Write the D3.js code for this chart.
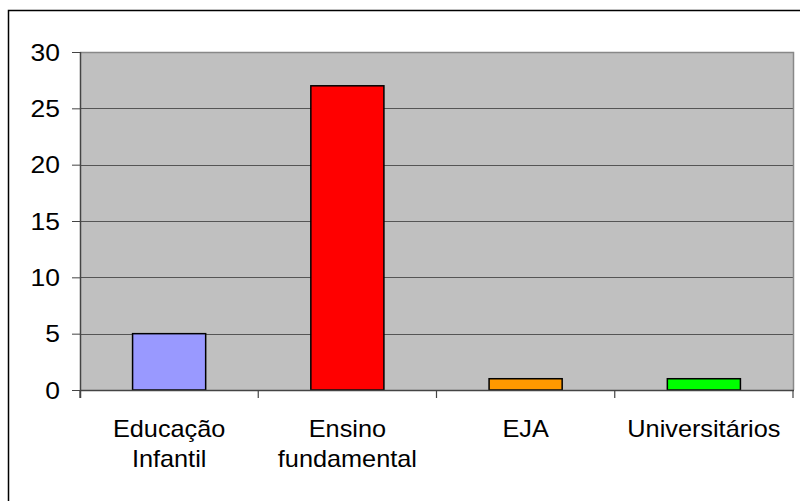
<!DOCTYPE html>
<html>
<head>
<meta charset="utf-8">
<script src="https://cdn.jsdelivr.net/npm/d3@7/dist/d3.min.js"></script>
<style>
  html, body { margin: 0; padding: 0; background: #fff; }
  svg { display: block; }
  text { font-family: "Liberation Sans", Arial, sans-serif; fill: #000; }
</style>
</head>
<body>
<svg id="chart" width="800" height="501"></svg>
<script>
// Data
const categories = [["Educação", "Infantil"], ["Ensino", "fundamental"], ["EJA"], ["Universitários"]];
const values = [5, 27, 1, 1];
const barColors = ["#9999ff", "#ff0000", "#ff9900", "#00ff00"];
const yTicks = [0, 5, 10, 15, 20, 25, 30];

const svg = d3.select("#chart");
const plot = { left: 80, right: 793, top: 52, bottom: 390 };

// Outer frame of the chart area
svg.append("rect")
  .attr("x", 8.5).attr("y", 10.5)
  .attr("width", 800).attr("height", 500)
  .attr("fill", "none").attr("stroke", "#000").attr("stroke-width", 1.5);

const x = d3.scaleBand()
  .domain(d3.range(categories.length))
  .range([plot.left, plot.right])
  .paddingInner(0.59).paddingOuter(0.295);

const y = d3.scaleLinear().domain([0, 30]).range([plot.bottom, plot.top]);

// Plot background
svg.append("rect")
  .attr("x", plot.left).attr("y", plot.top)
  .attr("width", plot.right - plot.left).attr("height", plot.bottom - plot.top)
  .attr("fill", "#c0c0c0");

// Gridlines
svg.append("g").selectAll("line")
  .data(yTicks.filter(t => t > 0 && t < 30))
  .join("line")
  .attr("x1", plot.left).attr("x2", plot.right)
  .attr("y1", d => Math.round(y(d)) + 0.5).attr("y2", d => Math.round(y(d)) + 0.5)
  .attr("stroke", "#555").attr("stroke-width", 1);

// Plot border (top and right)
svg.append("path")
  .attr("d", `M${plot.left},${plot.top + 0.5}H${plot.right + 0.5}V${plot.bottom}`)
  .attr("fill", "none").attr("stroke", "#888").attr("stroke-width", 1.5);

// Bars
svg.append("g").selectAll("rect")
  .data(values)
  .join("rect")
  .attr("x", (d, i) => x(i))
  .attr("y", d => y(d))
  .attr("width", x.bandwidth())
  .attr("height", d => y(0) - y(d))
  .attr("fill", (d, i) => barColors[i])
  .attr("stroke", "#000").attr("stroke-width", 1.5);

// Y axis
const yAxis = d3.axisLeft(y).tickValues(yTicks).tickSize(8).tickPadding(12).tickSizeOuter(0);
const gy = svg.append("g").attr("transform", `translate(${plot.left},0)`).call(yAxis);
gy.select(".domain").attr("stroke", "#444").attr("stroke-width", 1.5)
  .attr("d", `M0.5,${plot.top}V${plot.bottom + 8}`);
gy.selectAll(".tick line").attr("stroke", "#444");
gy.selectAll(".tick text")
  .attr("font-size", 23)
  .attr("fill", "#000")
  .attr("dy", "0.36em")
  .attr("transform", "scale(1.15,1)")
  .attr("x", -20 / 1.15);

// X axis line and category separators
const band = (plot.right - plot.left) / categories.length;
svg.append("line")
  .attr("x1", plot.left).attr("x2", plot.right + 1)
  .attr("y1", plot.bottom + 0.5).attr("y2", plot.bottom + 0.5)
  .attr("stroke", "#444").attr("stroke-width", 1.5);
svg.append("g").selectAll("line")
  .data(d3.range(categories.length + 1))
  .join("line")
  .attr("x1", i => plot.left + i * band).attr("x2", i => plot.left + i * band)
  .attr("y1", plot.bottom).attr("y2", plot.bottom + 8)
  .attr("stroke", "#444").attr("stroke-width", 1.2);

// Category labels
const labels = svg.append("g").selectAll("text")
  .data(categories)
  .join("text")
  .attr("text-anchor", "middle")
  .attr("font-size", 23)
  .attr("transform", (d, i) => `translate(${x(i) + x.bandwidth() / 2},437) scale(1.1,1)`);
labels.selectAll("tspan")
  .data(d => d)
  .join("tspan")
  .attr("x", 0)
  .attr("y", (d, j) => j * 30)
  .text(d => d);
</script>
</body>
</html>
